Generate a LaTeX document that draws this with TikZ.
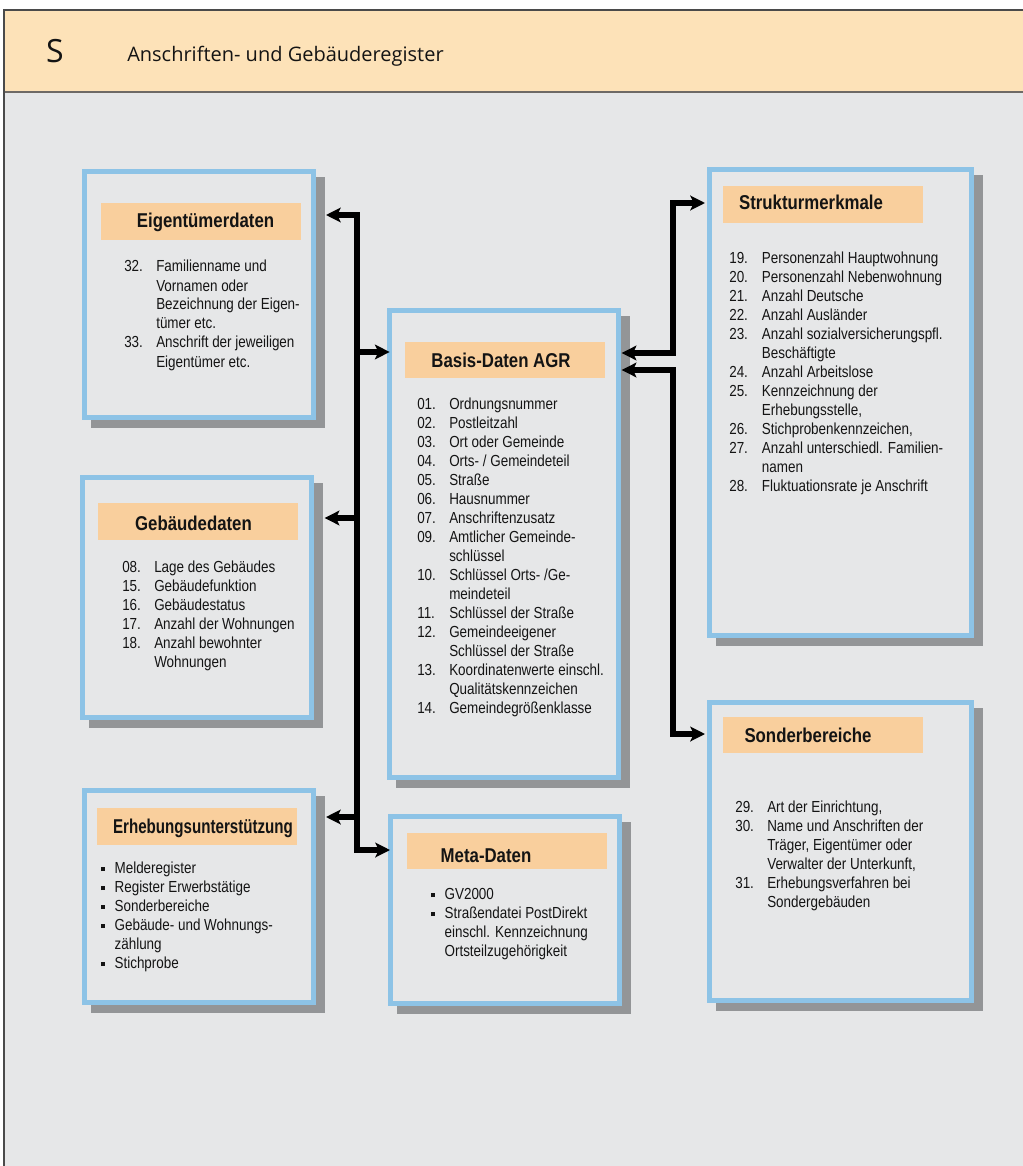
\documentclass[tikz,border=0pt]{standalone}
\usepackage{fontspec}
\usepackage{array}
\usepackage{graphicx}
\setmainfont{Liberation Sans}[FakeStretch=0.84]
\newfontfamily\headfont{Open Sans}
\usetikzlibrary{arrows.meta,fit}
\definecolor{bgc}{HTML}{E6E7E8}
\definecolor{headc}{HTML}{FDE2B8}
\definecolor{bandc}{HTML}{F9CF9D}
\definecolor{bluec}{HTML}{8DC3E6}
\definecolor{shadowc}{HTML}{939597}
\definecolor{framec}{HTML}{4A4A4A}
\definecolor{headline}{HTML}{6E6A66}
\definecolor{txtc}{HTML}{141414}
\newcommand\bul{\raisebox{1.5pt}{\rule{3pt}{3pt}}}
\newcommand\itemfont{\fontsize{12}{14.25}\selectfont}
\newcommand\regbox[5]{%
  \fill[shadowc] (#2+9,#3+8) rectangle (#4+9,#5+8);
  \node[regframe, fit={(#2+2.5,#3+2.5) (#4-2.5,#5-2.5)}] (#1) {};}
\tikzset{
  regframe/.style={draw=bluec, fill=bgc, line width=3.75pt, inner sep=0pt},
  band/.style={fill=bandc, draw=none, inner sep=0pt},
  ttl/.style={anchor=base, inner sep=0pt, text=txtc, font=\fontsize{15}{18}\selectfont\bfseries},
  items/.style={anchor=base west, inner sep=0pt, text=txtc, font=\itemfont},
  conn/.style={line width=3.9pt, draw=black},
  mytip/.tip={Stealth[length=11pt,width=11pt,inset=2.5pt]}
}
\begin{document}
\begin{tikzpicture}[x=0.75pt,y=-0.75pt]
\useasboundingbox (0,0) rectangle (1023,1166);
% frame
\fill[bgc] (4,9) rectangle (1023,1166);
\fill[headc] (4,10) rectangle (1023,92);
\draw[headline, line width=1.5pt] (4,92) -- (1023,92);
\draw[framec, line width=1pt] (4,1166) -- (4,10) -- (1023,10);
\node[anchor=base, inner sep=0pt, font=\headfont\fontsize{24}{28}\selectfont, text=txtc] (hs) at (55,63) {S};
\node[anchor=base west, inner sep=0pt, font=\headfont\fontsize{15}{18}\selectfont, text=txtc] (ht) at (127,62) {Anschriften- und Gebäuderegister};

% boxes
\regbox{eig}{82}{169}{316}{420}
\regbox{geb}{80}{475}{314}{720}
\regbox{erh}{82}{788}{316}{1005}
\regbox{bas}{387}{308}{621}{780}
\regbox{met}{388}{814}{622}{1006}
\regbox{str}{707}{167}{974}{638}
\regbox{son}{707}{700}{974}{1003}

% title bands
\node[band, fit={(101,203) (301,240)}] (eigB) {};
\node[band, fit={(98,503) (298,540)}] (gebB) {};
\node[band, fit={(97,808) (297,845)}] (erhB) {};
\node[band, fit={(405,342) (605,378)}] (basB) {};
\node[band, fit={(407,833) (607,869)}] (metB) {};
\node[band, fit={(723,186) (923,223)}] (strB) {};
\node[band, fit={(723,717) (923,753)}] (sonB) {};

\node[ttl] (eigT) at (205.5,228) {Eigentümerdaten};
\node[ttl] (gebT) at (193.5,530) {Gebäudedaten};
\node[ttl] (erhT) at (203,833) {\scalebox{0.9}[1]{Erhebungsunterstützung}};
\node[ttl] (basT) at (501,367) {Basis-Daten AGR};
\node[ttl] (metT) at (486,862) {Meta-Daten};
\node[ttl] (strT) at (811,210) {Strukturmerkmale};
\node[ttl] (sonT) at (808,742) {Sonderbereiche};

% item lists
\node[items] (eigI) at (124,272) {\begin{tabular}[t]{@{}p{24pt}@{}l@{}}
32. & Familienname und\\ & Vornamen oder\\ & Bezeichnung der Eigen-\\ & tümer etc.\\
33. & Anschrift der jeweiligen\\ & Eigentümer etc.\end{tabular}};
\node[items] (gebI) at (122,572) {\begin{tabular}[t]{@{}p{24pt}@{}l@{}}
08. & Lage des Gebäudes\\ 15. & Gebäudefunktion\\ 16. & Gebäudestatus\\
17. & Anzahl der Wohnungen\\ 18. & Anzahl bewohnter\\ & Wohnungen\end{tabular}};
\node[items] (erhI) at (101,873) {\begin{tabular}[t]{@{}p{10pt}@{}l@{}}
\bul & Melderegister\\ \bul & Register Erwerbstätige\\ \bul & Sonderbereiche\\
\bul & Gebäude- und Wohnungs-\\ & zählung\\ \bul & Stichprobe\end{tabular}};
\node[items] (basI) at (417,409) {\begin{tabular}[t]{@{}p{24pt}@{}l@{}}
01. & Ordnungsnummer\\ 02. & Postleitzahl\\ 03. & Ort oder Gemeinde\\
04. & Orts- / Gemeindeteil\\ 05. & Straße\\ 06. & Hausnummer\\
07. & Anschriftenzusatz\\ 09. & Amtlicher Gemeinde-\\ & schlüssel\\
10. & Schlüssel Orts- /Ge-\\ & meindeteil\\ 11. & Schlüssel der Straße\\
12. & Gemeindeeigener\\ & Schlüssel der Straße\\
13. & Koordinatenwerte einschl.\\ & Qualitätskennzeichen\\
14. & Gemeindegrößenklasse\end{tabular}};
\node[items] (metI) at (431,899) {\begin{tabular}[t]{@{}p{10pt}@{}l@{}}
\bul & GV2000\\ \bul & Straßendatei PostDirekt\\ & einschl. Kennzeichnung\\
& Ortsteilzugehörigkeit\end{tabular}};
\node[items] (strI) at (729,263) {\begin{tabular}[t]{@{}p{24.5pt}@{}l@{}}
19. & Personenzahl Hauptwohnung\\ 20. & Personenzahl Nebenwohnung\\
21. & Anzahl Deutsche\\ 22. & Anzahl Ausländer\\
23. & Anzahl sozialversicherungspfl.\\ & Beschäftigte\\
24. & Anzahl Arbeitslose\\ 25. & Kennzeichnung der\\ & Erhebungsstelle,\\
26. & Stichprobenkennzeichen,\\ 27. & Anzahl unterschiedl. Familien-\\ & namen\\
28. & Fluktuationsrate je Anschrift\end{tabular}};
\node[items] (sonI) at (735,812) {\begin{tabular}[t]{@{}p{24pt}@{}l@{}}
29. & Art der Einrichtung,\\ 30. & Name und Anschriften der\\
& Träger, Eigentümer oder\\ & Verwalter der Unterkunft,\\
31. & Erhebungsverfahren bei\\ & Sondergebäuden\end{tabular}};

% connectors, left trunk
\coordinate (L1) at (357,215);
\coordinate (L2) at (357,352);
\coordinate (L3) at (357,518);
\coordinate (L4) at (357,817);
\coordinate (L5) at (357,850);
\draw[conn, {mytip}-{mytip}] ([xshift=7.5pt]eig.east |- L1) -- (L1) -- (L5) -- ([xshift=1.5pt]met.west |- L5);
\draw[conn, -{mytip}] (L2) -- ([xshift=2pt]bas.west |- L2);
\draw[conn, -{mytip}] (L3) -- ([xshift=8pt]geb.east |- L3);
\draw[conn, -{mytip}] (L4) -- ([xshift=7.5pt]erh.east |- L4);
% right trunk
\coordinate (R1) at (673,353);
\coordinate (R2) at (673,203);
\coordinate (R3) at (673,370);
\coordinate (R4) at (673,734);
\draw[conn, {mytip}-{mytip}] ([xshift=0.5pt]bas.east |- R1) -- (R1) -- (R2) -- ([xshift=-1.5pt]str.west |- R2);
\draw[conn, {mytip}-{mytip}] ([xshift=0.5pt]bas.east |- R3) -- (R3) -- (R4) -- ([xshift=-1.5pt]son.west |- R4);
\end{tikzpicture}
\end{document}
